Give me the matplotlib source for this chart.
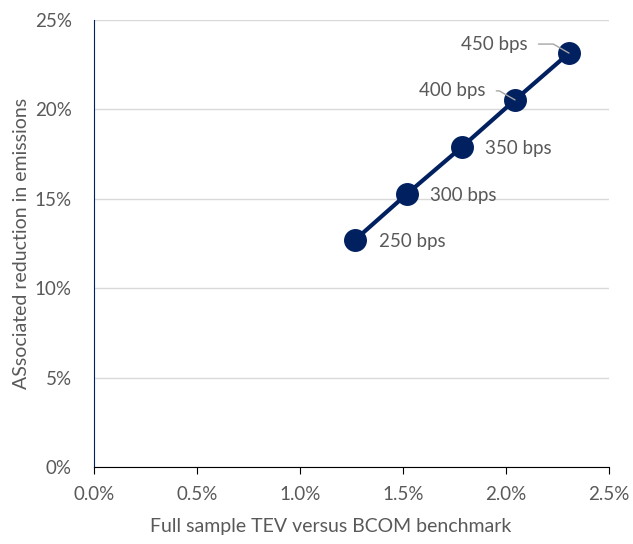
import matplotlib
matplotlib.use("Agg")
import matplotlib.pyplot as plt
from matplotlib.ticker import FuncFormatter

# tracking error vs emissions reduction for each bps budget
tev = [1.267, 1.519, 1.786, 2.044, 2.306]
reduction = [12.70, 15.27, 17.90, 20.53, 23.15]
labels = ["250 bps", "300 bps", "350 bps", "400 bps", "450 bps"]

# label offsets in points (text anchor relative to the marker)
label_offsets = [(17, -1), (17, -1), (17, -1), (-21.5, 6.5), (-30, 6.5)]

navy = "#002060"
grey_txt = "#595959"

plt.rcParams['font.family'] = ['Lato', 'DejaVu Sans']

fig = plt.figure(figsize=(6.33, 5.44), dpi=100)
ax = fig.add_axes([0.1485, 0.1415, 0.8135, 0.8217])

ax.plot(tev, reduction, color=navy, lw=3, marker='o', ms=15.5, zorder=3)

for i, (x, y, lab) in enumerate(zip(tev, reduction, labels)):
    off = label_offsets[i]
    if off[0] > 0:
        ax.annotate(lab, (x, y), xytext=off, textcoords='offset points',
                    ha='left', va='center', fontsize=13.5, color=grey_txt)
    else:
        # leader line: short flat run, then down to the marker
        ax.annotate(lab, (x, y), xytext=off, textcoords='offset points',
                    ha='right', va='center', fontsize=13.5, color=grey_txt,
                    zorder=4,
                    arrowprops=dict(arrowstyle='-', color='#a6a6a6', lw=1,
                                    shrinkA=6, shrinkB=0, relpos=(1, 0.5),
                                    connectionstyle="angle,angleA=0,angleB=150,rad=0"))

ax.set_xlim(0, 2.5)
ax.set_ylim(0, 25)
ax.set_xticks([0, 0.5, 1.0, 1.5, 2.0, 2.5])
ax.set_yticks([0, 5, 10, 15, 20, 25])
ax.xaxis.set_major_formatter(FuncFormatter(lambda v, p: f"{v:.1f}%"))
ax.yaxis.set_major_formatter(FuncFormatter(lambda v, p: f"{v:.0f}%"))

ax.grid(axis='y', color='#d9d9d9', lw=1)
ax.set_axisbelow(True)
for s in ['top', 'right']:
    ax.spines[s].set_visible(False)
ax.spines['left'].set_color(navy)
ax.spines['bottom'].set_color('black')
ax.tick_params(axis='y', length=0, pad=16, labelsize=13.5, labelcolor=grey_txt)
ax.tick_params(axis='x', length=5, direction='out', pad=9, labelsize=13.5,
               labelcolor=grey_txt)

ax.set_xlabel("Full sample TEV versus BCOM benchmark", fontsize=14,
              color=grey_txt)
ax.set_ylabel("ASsociated reduction in emissions", fontsize=14,
              color=grey_txt)
ax.xaxis.set_label_coords(0.46, -0.115)
ax.yaxis.set_label_coords(-0.124, 0.5)

fig.savefig("out.png", dpi=100)
